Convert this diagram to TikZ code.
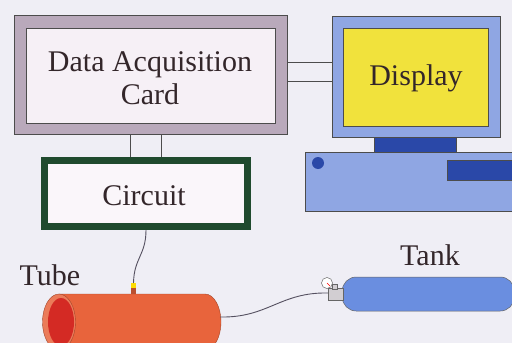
\documentclass[tikz,border=0pt]{standalone}
\usepackage{fontspec}
\setmainfont{Liberation Serif}
\usetikzlibrary{shapes.geometric}
\begin{document}
\definecolor{bg}{HTML}{EFEEF5}
\definecolor{daqouter}{HTML}{B9A9BB}
\definecolor{daqinner}{HTML}{F6F0F6}
\definecolor{frameblue}{HTML}{8FA6E3}
\definecolor{darkblue}{HTML}{2A48A8}
\definecolor{screen}{HTML}{F1E23C}
\definecolor{circgreen}{HTML}{1F4A2E}
\definecolor{tubebody}{HTML}{E8643C}
\definecolor{tubeface}{HTML}{D42A24}
\definecolor{tankblue}{HTML}{6A8EE0}
\definecolor{ink}{HTML}{33262A}
\definecolor{wire}{HTML}{555060}
\begin{tikzpicture}[x=1pt,y=-1pt,
  lbl/.style={font=\fontsize{30}{33}\selectfont, text=ink, align=center},
  edge/.style={draw=black!70, line width=0.5pt},
  cable/.style={draw=wire, line width=0.9pt}]
\useasboundingbox (0,0) rectangle (512,343);
\fill[bg] (0,0) rectangle (512,343);

% data acquisition card
\node[edge, fill=daqouter, minimum width=273pt, minimum height=119pt, inner sep=0pt] (daq) at (150.5,74.5) {};
\node[edge, fill=daqinner, minimum width=249pt, minimum height=95pt, inner sep=0pt] (daqin) at (150.5,75.5) {};
\node[lbl] (daqtxt) at (150,78) {Data Acquisition\\Card};

% computer base and stand
\node[edge, fill=frameblue, minimum width=210pt, minimum height=59pt, inner sep=0pt, anchor=north west] (base) at (305,152) {};
\node[fill=darkblue, circle, minimum size=12pt, inner sep=0pt] (button) at (318,163) {};
\node[edge, fill=darkblue, minimum width=70pt, minimum height=20pt, inner sep=0pt, anchor=north west] (slot) at (447,160) {};
\node[edge, fill=darkblue, minimum width=82pt, minimum height=15pt, inner sep=0pt, anchor=north west] (stand) at (374,137) {};

% monitor
\node[edge, fill=frameblue, minimum width=168pt, minimum height=121pt, inner sep=0pt, anchor=north west] (display) at (332,16) {};
\node[edge, fill=screen, minimum width=145pt, minimum height=98pt, inner sep=0pt, anchor=north west] (screen) at (343,28) {};
\node[lbl] (disptxt) at (416,78) {Display};

% card to monitor links
\draw[edge] (daq.east |- 0,62) -- (display.west |- 0,62);
\draw[edge] (daq.east |- 0,81) -- (display.west |- 0,81);

% circuit
\node[draw=circgreen, line width=7pt, fill=daqinner!60!white, minimum width=203pt, minimum height=66pt, inner sep=0pt] (circuit) at (146,193.5) {};
\node[lbl] (circtxt) at (144,196) {Circuit};

% card to circuit links
\draw[edge] (130,0 |- daq.south) -- (130,0 |- circuit.north);
\draw[edge] (161,0 |- daq.south) -- (161,0 |- circuit.north);

% tube
\fill[tubebody, draw=tubebody!70!black, line width=0.4pt]
  (59,294) -- (205,294) arc[start angle=-90, end angle=90, x radius=16, y radius=28]
  -- (59,350) -- cycle;
\node[fill=tubebody!85!white, draw=tubebody!70!black, line width=0.4pt, ellipse, minimum width=33pt, minimum height=56pt, inner sep=0pt] (tubeend) at (59,322) {};
\node[fill=tubeface, ellipse, minimum width=26pt, minimum height=48pt, inner sep=0pt] (tubeface) at (61,322) {};
\coordinate (tubeout) at (220,317);
\node[lbl] (tubetxt) at (50,275) {Tube};

% sensor port on tube
\fill[tubebody!80!black] (131,287) rectangle (136,294);
\fill[yellow!80!orange] (131,283) rectangle (136,288);
\coordinate (port) at (133.5,283);

% circuit to sensor wire
\draw[cable] (circuit.south) .. controls (146,255) and (134,258) .. (port);

% tank with valve and gauge
\node[draw=black!60, line width=0.5pt, fill=tankblue, rounded corners=14pt, minimum width=172pt, minimum height=34pt, inner sep=0pt, anchor=west] (tank) at (342,294) {};
\fill[daqinner!70!gray, draw=black!60, line width=0.4pt] (328,288) rectangle (343,300);
\fill[daqinner!70!gray, draw=black!60, line width=0.4pt] (332,284) rectangle (337,289);
\node[circle, draw=black!60, fill=white, line width=0.5pt, minimum size=11pt, inner sep=0pt] (gauge) at (327,283) {};
\draw[red, line width=0.7pt] (gauge.center) -- ++(3,3);
\coordinate (valve) at (328,293);
\node[lbl] (tanktxt) at (430,255) {Tank};

% tube to tank hose
\draw[cable] (tubeout) .. controls (268,318) and (280,292) .. (valve);
\end{tikzpicture}
\end{document}
